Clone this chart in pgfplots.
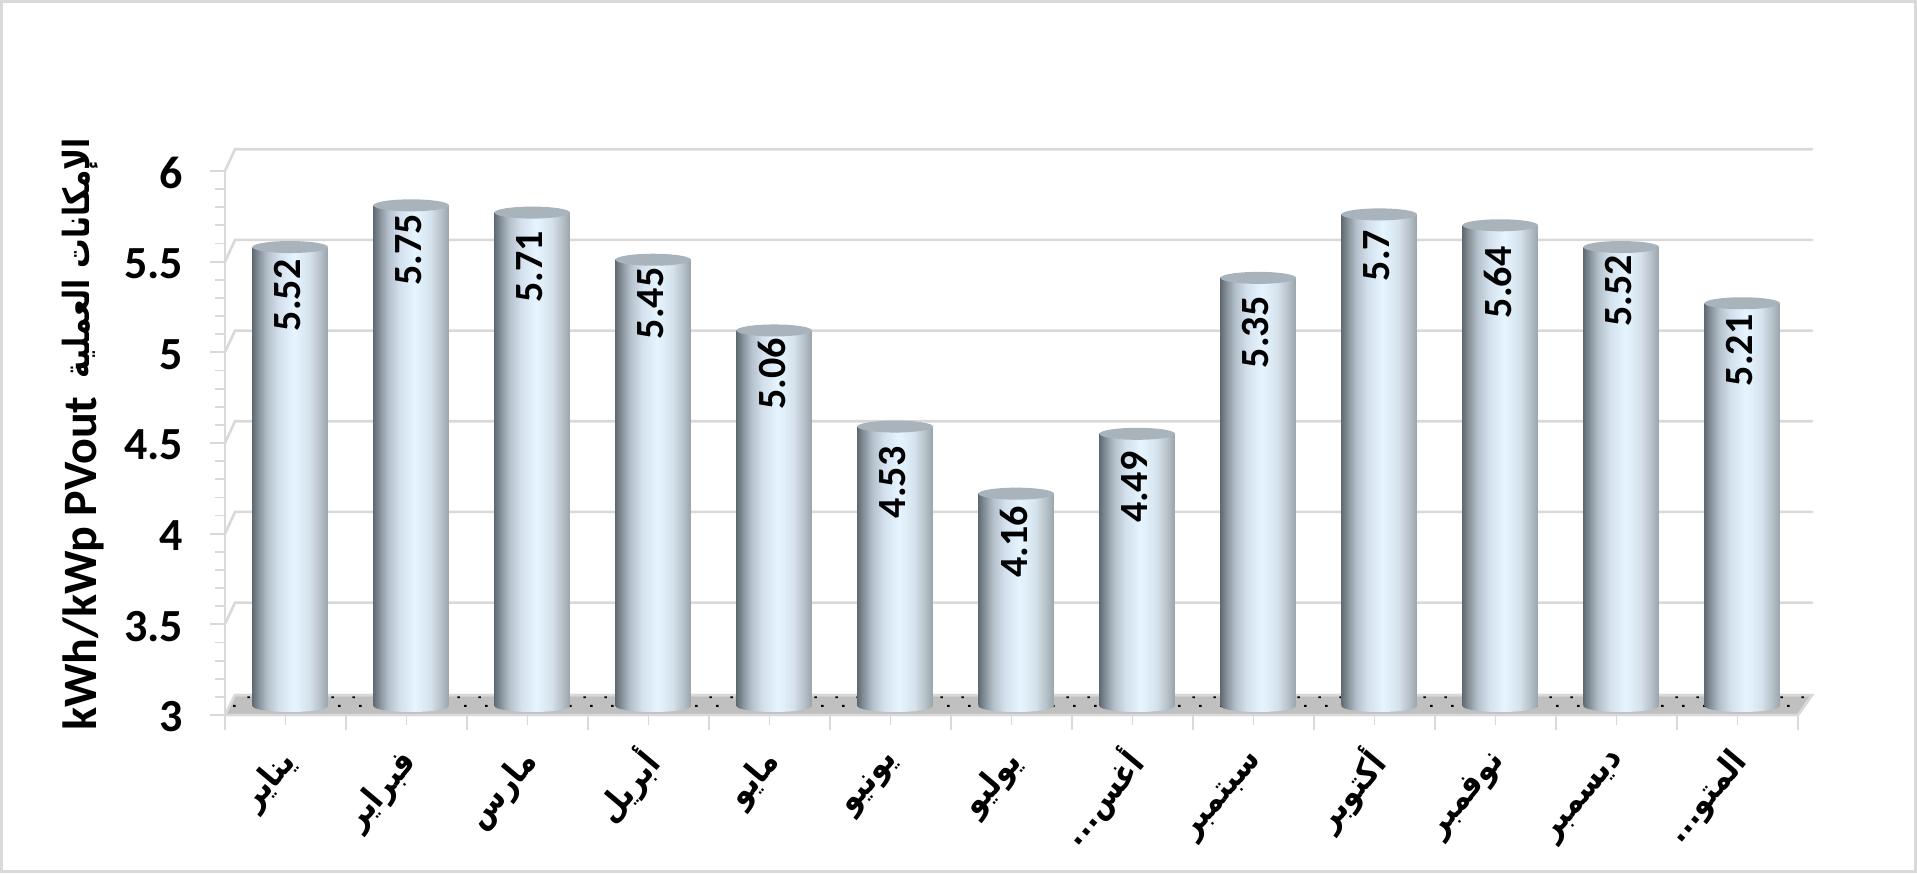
\documentclass[border=0pt]{standalone}
\usepackage{fontspec}
\usepackage{graphicx}
\setmainfont{Carlito}
\newfontfamily\arabicfont[Script=Arabic]{DejaVu Sans}
\TeXXeTstate=1
\usepackage{pgfplots}
\usepackage{pgfplotstable}
\pgfplotsset{compat=1.18}
\usetikzlibrary{patterns}
\definecolor{gl}{HTML}{D9D9D9}
\definecolor{flr}{HTML}{C0C0C0}
\definecolor{captop}{HTML}{A9B3BC}
\pgfdeclarehorizontalshading{cyl}{100bp}{
  rgb(0bp)=(0.38,0.42,0.45);
  rgb(25bp)=(0.38,0.42,0.45);
  rgb(30bp)=(0.56,0.60,0.64);
  rgb(35bp)=(0.71,0.76,0.80);
  rgb(42.5bp)=(0.83,0.88,0.93);
  rgb(52.5bp)=(0.90,0.96,1.00);
  rgb(62.5bp)=(0.84,0.89,0.93);
  rgb(70bp)=(0.71,0.75,0.78);
  rgb(75bp)=(0.60,0.64,0.67);
  rgb(100bp)=(0.60,0.64,0.67)}
\pgfdeclarepatternformonly{flrdots}{\pgfqpoint{0pt}{0pt}}{\pgfqpoint{10.5pt}{9pt}}{\pgfqpoint{10.5pt}{9pt}}{
  \pgfpathrectangle{\pgfqpoint{8.6pt}{6.6pt}}{\pgfqpoint{1.3pt}{1.1pt}}
  \pgfpathrectangle{\pgfqpoint{1.1pt}{2.1pt}}{\pgfqpoint{1.3pt}{1.1pt}}
  \pgfusepath{fill}}
\pgfdeclareplotmark{cylbase}{
  \pgfpathmoveto{\pgfqpoint{-18.875pt}{1.5pt}}
  \pgfpathlineto{\pgfqpoint{-18.875pt}{0pt}}
  \pgfpatharc{180}{360}{18.875pt and 3pt}
  \pgfpathlineto{\pgfqpoint{18.875pt}{1.5pt}}
  \pgfpathclose
  \pgfshadepath{cyl}{0}
  \pgfusepath{discard}}
\pgfdeclareplotmark{cyltop}{
  \pgfpathellipse{\pgfpointorigin}{\pgfqpoint{18.875pt}{0pt}}{\pgfqpoint{0pt}{3pt}}
  \pgfusepathqfill}
\newcommand{\arA}{\scalebox{0.88}[1]{\arabicfont\bfseries\beginR أغس...\endR}}
\newcommand{\arB}{\scalebox{0.88}[1]{\arabicfont\bfseries\beginR المتو...\endR}}
% x, value, label drop below the top of the bar (pt)
\pgfplotstableread{
x y drop
0.5 5.52 24.2
1.5 5.75 22.4
2.5 5.71 27.3
3.5 5.45 21.8
4.5 5.06 21.8
5.5 4.53 27.9
6.5 4.16 24.2
7.5 4.49 26.7
8.5 5.35 27.3
9.5 5.7 20.6
10.5 5.64 28.5
11.5 5.52 21.8
12.5 5.21 23.6
}\tops
\begin{document}
\begin{tikzpicture}
\useasboundingbox (0,0) rectangle (958.5pt,436.5pt);
\fill[white] (0,0) rectangle (958.5pt,436.5pt);
\draw[gl,line width=1.5pt] (0.75pt,0.75pt) rectangle (957.75pt,435.75pt);
\begin{axis}[
  at={(112.5pt,79pt)},anchor=south west,
  scale only axis,width=786.5pt,height=272pt,
  clip=false,
  xmin=0,xmax=13,ymin=3,ymax=6,
  axis x line*=bottom,axis y line*=left,
  axis line style={gl,line width=1.3pt},
  /pgf/number format/assume math mode=true,
  xtick={0,1,...,13},xticklabels={},
  extra x ticks={0.5,1.5,2.5,3.5,4.5,5.5,6.5,7.5,8.5,9.5,10.5,11.5,12.5},
  extra x tick labels={
    {\scalebox{0.88}[1]{\arabicfont\bfseries\beginR يناير\endR}},
    {\scalebox{0.88}[1]{\arabicfont\bfseries\beginR فبراير\endR}},
    {\scalebox{0.88}[1]{\arabicfont\bfseries\beginR مارس\endR}},
    {\scalebox{0.88}[1]{\arabicfont\bfseries\beginR أبريل\endR}},
    {\scalebox{0.88}[1]{\arabicfont\bfseries\beginR مايو\endR}},
    {\scalebox{0.88}[1]{\arabicfont\bfseries\beginR يونيو\endR}},
    {\scalebox{0.88}[1]{\arabicfont\bfseries\beginR يوليو\endR}},
    {\arA},
    {\scalebox{0.88}[1]{\arabicfont\bfseries\beginR سبتمبر\endR}},
    {\scalebox{0.88}[1]{\arabicfont\bfseries\beginR أكتوبر\endR}},
    {\scalebox{0.88}[1]{\arabicfont\bfseries\beginR نوفمبر\endR}},
    {\scalebox{0.88}[1]{\arabicfont\bfseries\beginR ديسمبر\endR}},
    {\arB}},
  extra x tick style={major tick length=5pt,
    tick label style={font=\fontsize{17}{17}\selectfont,rotate=50,anchor=east,xshift=-7.3pt,yshift=-11.9pt}},
  ytick={3,3.5,4,4.5,5,5.5,6},minor y tick num=4,
  yticklabels={3,3.5,4,4.5,5,5.5,6},
  tick style={gl,line width=0.9pt},
  major tick length=7.5pt,minor tick length=5pt,
  tick align=outside,
  y tick label style={font=\fontsize{23}{23}\selectfont\bfseries,xshift=-10pt,yshift=-1pt},
  ylabel={\fontsize{24}{24}\selectfont\bfseries kWh/kWp PVout\hspace{9pt}\raisebox{3.5pt}{\fontsize{18}{18}\selectfont\scalebox{0.82}[1]{\arabicfont\bfseries\beginR الإمكانات العملية\endR}}},
  every axis y label/.style={at={(rel axis cs:-0.0814,-0.03)},rotate=90,anchor=base west,inner sep=0pt},
]
% floor
\addplot[draw=gl,line width=1.2pt,fill=flr,postaction={pattern=flrdots,pattern color=black}]
  coordinates {(0,3) (0.0826,3.11) (13.116,3.11) (13,3)} -- cycle;
% back wall gridlines
\addplot[gl,line width=1.3pt,line cap=round] coordinates {(0,3.5) (0.0826,3.62) (13.116,3.62)};
\addplot[gl,line width=1.3pt,line cap=round] coordinates {(0,4) (0.0826,4.12) (13.116,4.12)};
\addplot[gl,line width=1.3pt,line cap=round] coordinates {(0,4.5) (0.0826,4.62) (13.116,4.62)};
\addplot[gl,line width=1.3pt,line cap=round] coordinates {(0,5) (0.0826,5.12) (13.116,5.12)};
\addplot[gl,line width=1.3pt,line cap=round] coordinates {(0,5.5) (0.0826,5.62) (13.116,5.62)};
\addplot[gl,line width=1.3pt,line cap=round] coordinates {(0,6) (0.0826,6.12) (13.116,6.12)};
% cylinder bodies
\pgfplotsset{cylbar/.style={ybar,bar shift=0pt,bar width=37.75pt,draw=none,shade,shading=cyl,xshift=2.35pt,yshift=5.5pt}}
\addplot[cylbar] coordinates {(0.5,5.52)};
\addplot[cylbar] coordinates {(1.5,5.75)};
\addplot[cylbar] coordinates {(2.5,5.71)};
\addplot[cylbar] coordinates {(3.5,5.45)};
\addplot[cylbar] coordinates {(4.5,5.06)};
\addplot[cylbar] coordinates {(5.5,4.53)};
\addplot[cylbar] coordinates {(6.5,4.16)};
\addplot[cylbar] coordinates {(7.5,4.49)};
\addplot[cylbar] coordinates {(8.5,5.35)};
\addplot[cylbar] coordinates {(9.5,5.7)};
\addplot[cylbar] coordinates {(10.5,5.64)};
\addplot[cylbar] coordinates {(11.5,5.52)};
\addplot[cylbar] coordinates {(12.5,5.21)};
% bases
\addplot[only marks,mark=cylbase,xshift=2.35pt,yshift=4.5pt] coordinates {
(0.5,3)(1.5,3)(2.5,3)(3.5,3)(4.5,3)(5.5,3)(6.5,3)(7.5,3)(8.5,3)(9.5,3)(10.5,3)(11.5,3)(12.5,3)};
% tops and labels
\addplot[only marks,mark=cyltop,mark options={fill=captop,draw=none,color=captop},xshift=2.35pt,yshift=5.5pt,
  visualization depends on={\thisrow{drop}\as\labeldrop},
  nodes near coords,
  every node near coord/.style={xshift=-1.35pt,yshift=-\labeldrop pt,rotate=90,anchor=center,color=black,inner sep=0pt,
     font=\fontsize{20}{20}\selectfont\bfseries}]
 table[x=x,y=y] {\tops};
\end{axis}
\end{tikzpicture}
\end{document}
